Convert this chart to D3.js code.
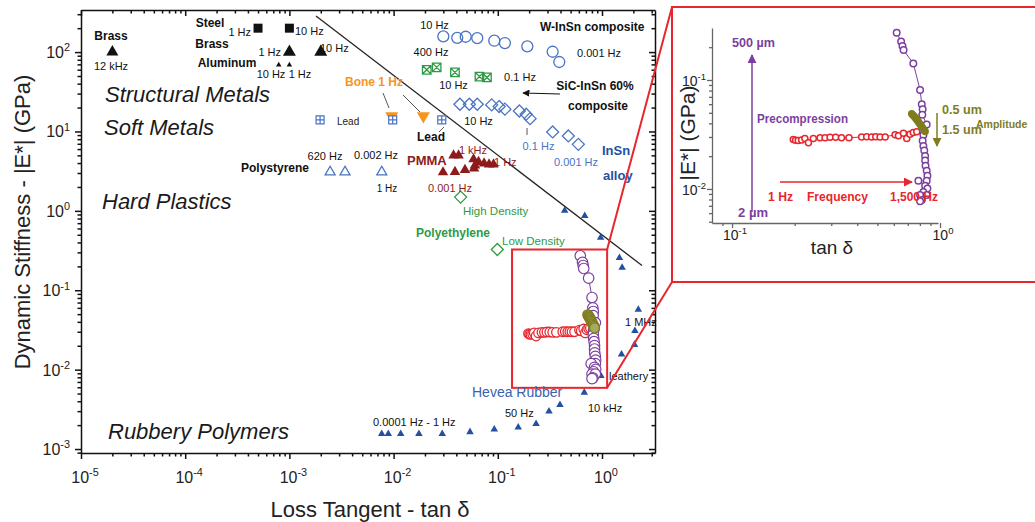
<!DOCTYPE html>
<html>
<head>
<meta charset="utf-8">
<script src="https://cdn.jsdelivr.net/npm/d3@7"></script>
<style>
  body { margin: 0; background: #fff; }
  svg { font-family: "Liberation Sans", Arial, sans-serif; }
</style>
</head>
<body>
<svg id="chart" width="1035" height="522"></svg>
<script>
// ---- data (tan delta, |E*| in GPa) ----
const brassHF = [[2e-5, 100]];
const steel = [[5e-4, 200], [1e-3, 200]];
const brass = [[1e-3, 100], [2e-3, 100]];
const aluminum = [[7.9e-4, 69], [1e-3, 69]];
const bone = [[0.0096, 15.7], [0.0193, 15.7]];
const lead = [[0.00197, 14], [0.0098, 14], [0.029, 14]];
const polystyrene = [[0.00246, 3.08], [0.00342, 3.08], [0.0077, 3.08]];
const pmma = [[0.0298, 3.06], [0.0388, 3.10], [0.0484, 3.28], [0.0592, 3.43], [0.0604, 3.74],
  [0.0376, 5.0], [0.0420, 5.0], [0.0585, 4.46], [0.0653, 4.14], [0.0738, 3.96], [0.0824, 3.85], [0.091, 3.85]];
const polyethylene = [[0.044, 1.49], [0.099, 0.326]];
const wInSn = [[0.030, 158], [0.0408, 151], [0.0492, 156], [0.0635, 150], [0.0925, 139],
  [0.117, 130], [0.192, 118], [0.336, 101], [0.389, 75]];
const sicInSn = [[0.0208, 59.8], [0.0259, 64.1], [0.0388, 55.5], [0.0667, 49.2], [0.0787, 47.9]];
const insnAlloy = [[0.0433, 22], [0.0533, 22], [0.0635, 22], [0.0873, 21.6], [0.103, 20.6], [0.117, 19.1],
  [0.161, 18.1], [0.187, 16.5], [0.204, 14.5], [0.336, 9.86], [0.475, 8.78], [0.593, 6.88]];
const hevea = [[0.00769, 0.00155], [0.00889, 0.00155], [0.0117, 0.00155], [0.0175, 0.00155], [0.0293, 0.00155],
  [0.0541, 0.00164], [0.0925, 0.00177], [0.157, 0.00188], [0.233, 0.00207], [0.310, 0.00299], [0.395, 0.00360],
  [0.676, 0.00516], [0.977, 0.00836], [1.54, 0.0156], [2.05, 0.0206], [2.07, 0.0309], [2.23, 0.0569],
  [1.56, 0.193], [1.47, 0.256], [0.97, 0.461], [0.683, 0.867], [0.438, 1.01]];
const stiffLine = [[0.0018, 285], [2.42, 0.205]];

// inset series
const frequency = [[0.197, 0.0285], [0.202, 0.028], [0.208, 0.0278], [0.216, 0.0282], [0.224, 0.029],
  [0.233, 0.0265], [0.246, 0.029], [0.265, 0.0295], [0.280, 0.0295], [0.296, 0.0298], [0.315, 0.0298],
  [0.336, 0.0295], [0.365, 0.0295], [0.420, 0.030], [0.444, 0.0302], [0.469, 0.030], [0.491, 0.0302],
  [0.515, 0.030], [0.545, 0.030], [0.608, 0.0315], [0.631, 0.0308], [0.667, 0.0325], [0.692, 0.029],
  [0.717, 0.0318], [0.744, 0.033], [0.773, 0.0335]];
const precompression = [[0.619, 0.272], [0.650, 0.225], [0.660, 0.205], [0.668, 0.188], [0.744, 0.142],
  [0.802, 0.081], [0.817, 0.060], [0.825, 0.054], [0.822, 0.048], [0.863, 0.039], [0.84, 0.034],
  [0.832, 0.0313], [0.825, 0.0277], [0.832, 0.0248], [0.84, 0.0225], [0.848, 0.0201], [0.848, 0.0182],
  [0.852, 0.0163], [0.863, 0.0147], [0.87, 0.0132], [0.863, 0.0119], [0.787, 0.0119], [0.848, 0.0107],
  [0.87, 0.0101], [0.832, 0.0094], [0.802, 0.0088], [0.863, 0.0088], [0.817, 0.0079], [0.802, 0.0077]];
const amplitude = [[0.731, 0.0490], [0.742, 0.0475], [0.752, 0.0462], [0.762, 0.0448], [0.772, 0.0435],
  [0.782, 0.0420], [0.792, 0.0405], [0.803, 0.0390], [0.814, 0.0376], [0.826, 0.0362], [0.838, 0.0348],
  [0.848, 0.0336]];
const zoomRegion = { x: [0.137, 1.12], y: [0.0059, 0.326] };

// tick labels (exponents of ten)
const xTickExp = [-5, -4, -3, -2, -1, 0];
const yTickExp = [-3, -2, -1, 0, 1, 2];
const insetXExp = [-1, 0];
const insetYExp = [-2, -1];

// ---- colours ----
const C = {
  blue: "#4a74c4", blueFill: "#2350a0", green: "#2e9a45", orange: "#f7941d", maroon: "#8c1c1c",
  red: "#e8262d", purple: "#7b3f9e", olive: "#7f7d1f"
};

const svg = d3.select("#chart");
const defs = svg.append("defs");
function arrowHead(id, color) {
  defs.append("marker").attr("id", id).attr("viewBox", "0 0 10 10")
    .attr("refX", 9).attr("refY", 5).attr("markerWidth", 6).attr("markerHeight", 6)
    .attr("orient", "auto")
    .append("path").attr("d", "M0,0L10,5L0,10Z").attr("fill", color);
}
arrowHead("ah-black", "#111");
arrowHead("ah-purple", C.purple);
arrowHead("ah-red", C.red);
arrowHead("ah-olive", C.olive);

/* Scales */
const x = d3.scaleLog().domain([1e-5, 3.226]).range([81, 655]);
const y = d3.scaleLog().domain([Math.pow(10, -3.05), Math.pow(10, 2.53)]).range([453, 10]);
const ix = d3.scaleLog().domain([0.0801, 0.978]).range([712, 938]);
const iy = d3.scaleLog().domain([0.00487, 0.300]).range([223, 28]);

function minorTicks(dom) {
  const out = [];
  for (let e = -6; e <= 3; e++) for (let m = 2; m < 10; m++) {
    const v = m * Math.pow(10, e);
    if (v > dom[0] && v < dom[1]) out.push(v);
  }
  return out;
}

function logAxis(g, axisFn, scale, majors, majorLen, minorLen, color, sw) {
  g.call(axisFn(scale).tickValues(majors).tickSizeInner(majorLen).tickSizeOuter(0).tickFormat(""));
  g.append("g").call(axisFn(scale).tickValues(minorTicks(scale.domain())).tickSizeInner(minorLen).tickSizeOuter(0).tickFormat(""))
    .call(s => s.select(".domain").remove());
  g.selectAll("path,line").attr("stroke", color).attr("stroke-width", sw);
}

function powLabel(sel, size) {
  sel.each(function (e) {
    const t = d3.select(this);
    t.append("tspan").text("10");
    t.append("tspan").attr("dy", -size * 0.42).attr("font-size", size * 0.68).text(e);
  });
}

/* Main axes (frame) */
const xMaj = xTickExp.map(e => Math.pow(10, e));
const yMaj = yTickExp.map(e => Math.pow(10, e));
logAxis(svg.append("g").attr("transform", "translate(0,453)"), d3.axisBottom, x, xMaj, 6, 3.5, "#111", 1.5);
logAxis(svg.append("g").attr("transform", "translate(0,10)"), d3.axisTop, x, xMaj, -6, -3.5, "#111", 1.5);
logAxis(svg.append("g").attr("transform", "translate(81,0)"), d3.axisLeft, y, yMaj, 6, 3.5, "#111", 1.5);
logAxis(svg.append("g").attr("transform", "translate(655,0)"), d3.axisRight, y, yMaj, -6, -3.5, "#111", 1.5);

svg.append("g").selectAll("text").data(xTickExp).join("text")
  .attr("x", e => x(Math.pow(10, e)) + 4).attr("y", 483)
  .attr("text-anchor", "middle").attr("font-size", 16).attr("fill", "#222")
  .call(powLabel, 16);
svg.append("g").selectAll("text").data(yTickExp).join("text")
  .attr("x", 70).attr("y", e => y(Math.pow(10, e)) + 6)
  .attr("text-anchor", "end").attr("font-size", 16).attr("fill", "#222")
  .call(powLabel, 16);

svg.append("text").attr("x", 370).attr("y", 517).attr("text-anchor", "middle")
  .attr("font-size", 22).attr("fill", "#222").text("Loss Tangent - tan δ");
svg.append("text").attr("transform", "translate(30,222) rotate(-90)").attr("text-anchor", "middle")
  .attr("font-size", 22).attr("fill", "#222").text("Dynamic Stiffness - |E*| (GPa)");

/* Marker shapes */
const shapes = {
  triUp: s => { const h = s * 0.87; return `M0,${-h * 2 / 3}L${s / 2},${h / 3}L${-s / 2},${h / 3}Z`; },
  triDown: s => { const h = s * 0.87; return `M0,${h * 2 / 3}L${s / 2},${-h / 3}L${-s / 2},${-h / 3}Z`; },
  square: s => `M${-s / 2},${-s / 2}h${s}v${s}h${-s}Z`,
  diamond: s => `M0,${-s / 2}L${s / 2},0L0,${s / 2}L${-s / 2},0Z`,
  circle: s => { const r = s / 2; return `M${r},0A${r},${r} 0 1,1 ${-r},0A${r},${r} 0 1,1 ${r},0Z`; },
  boxPlus: s => `M${-s / 2},${-s / 2}h${s}v${s}h${-s}Z M0,${-s / 2}V${s / 2} M${-s / 2},0H${s / 2}`,
  boxX: s => `M${-s / 2},${-s / 2}h${s}v${s}h${-s}Z M${-s / 2},${-s / 2}L${s / 2},${s / 2} M${s / 2},${-s / 2}L${-s / 2},${s / 2}`
};
function plot(data, sx, sy, shape, size, fill, stroke, sw) {
  svg.append("g").selectAll("path").data(data).join("path")
    .attr("transform", d => `translate(${sx(d[0])},${sy(d[1])})`)
    .attr("d", shapes[shape](size))
    .attr("fill", fill).attr("stroke", stroke || "none").attr("stroke-width", sw || 0);
}

const line = d3.line().x(d => x(d[0])).y(d => y(d[1]));
const iline = d3.line().x(d => ix(d[0])).y(d => iy(d[1]));

/* black reference line */
svg.append("path").attr("d", line(stiffLine)).attr("stroke", "#222").attr("stroke-width", 1.3).attr("fill", "none");

/* region labels */
const regions = [["Structural Metals", 105, 102], ["Soft Metals", 104, 135], ["Hard Plastics", 102, 209], ["Rubbery Polymers", 108, 439]];
svg.append("g").selectAll("text").data(regions).join("text")
  .attr("x", d => d[1]).attr("y", d => d[2]).attr("font-size", 22).attr("font-style", "italic")
  .attr("fill", "#1a1a1a").text(d => d[0]);

/* markers */
plot(brassHF, x, y, "triUp", 12, "#111");
plot(steel, x, y, "square", 9, "#111");
plot(brass, x, y, "triUp", 13, "#111");
plot(aluminum, x, y, "triUp", 5.5, "#111");
plot(bone, x, y, "triDown", 13, C.orange);
plot(lead, x, y, "boxPlus", 8, "#fff", C.blue, 1.2);
plot(polystyrene, x, y, "triUp", 10, "none", C.blue, 1.3);
plot(pmma, x, y, "triUp", 10.5, C.maroon);
plot(polyethylene, x, y, "diamond", 12, "none", C.green, 1.3);
plot(wInSn, x, y, "circle", 11, "none", C.blue, 1.3);
plot(sicInSn, x, y, "boxX", 8.5, "none", C.green, 1.3);
plot(insnAlloy, x, y, "diamond", 12, "none", C.blue, 1.3);
plot(hevea, x, y, "triUp", 7.5, C.blueFill);

/* zoomed region in main plot */
svg.append("path").attr("d", line(frequency)).attr("stroke", C.red).attr("fill", "none").attr("stroke-width", 1);
plot(frequency, x, y, "circle", 9.5, "#fff", C.red, 1.3);
svg.append("path").attr("d", line(precompression)).attr("stroke", C.purple).attr("fill", "none").attr("stroke-width", 1);
plot(precompression, x, y, "circle", 10.5, "#fff", C.purple, 1.2);
plot(amplitude, x, y, "circle", 10, "#a9a860", C.olive, 1.3);

const bx0 = x(zoomRegion.x[0]), bx1 = x(zoomRegion.x[1]), by0 = y(zoomRegion.y[1]), by1 = y(zoomRegion.y[0]);
svg.append("rect").attr("x", bx0).attr("y", by0).attr("width", bx1 - bx0).attr("height", by1 - by0)
  .attr("fill", "none").attr("stroke", C.red).attr("stroke-width", 2);

/* leader lines & arrows */
const leaders = [[[383, 93], [389, 108]], [[403, 95], [420, 112]], [[527, 128], [527, 135]], [[444, 127], [439, 132]]];
svg.append("g").selectAll("path").data(leaders).join("path")
  .attr("d", d => d3.line()(d)).attr("stroke", "#555").attr("stroke-width", 1);
svg.append("path").attr("d", "M560,94L523,93").attr("stroke", "#111").attr("stroke-width", 1.2)
  .attr("marker-end", "url(#ah-black)");

/* main annotations: text, x, y, anchor, size, weight, colour */
const notes = [
  ["Brass", 111, 40, "middle", 12, "bold", "#111"],
  ["12 kHz", 111, 70, "middle", 11, "normal", "#111"],
  ["Steel", 210, 27, "middle", 12, "bold", "#111"],
  ["1 Hz", 251, 36, "end", 11, "normal", "#111"],
  ["10 Hz", 295, 35, "start", 11, "normal", "#111"],
  ["Brass", 212, 48, "middle", 12, "bold", "#111"],
  ["1 Hz", 281, 56, "end", 11, "normal", "#111"],
  ["10 Hz", 320, 52, "start", 11, "normal", "#111"],
  ["Aluminum", 227, 67, "middle", 12, "bold", "#111"],
  ["10 Hz", 271, 78, "middle", 11, "normal", "#111"],
  ["1 Hz", 300, 78, "middle", 11, "normal", "#111"],
  ["Lead", 337, 124.5, "start", 10, "normal", "#222"],
  ["Lead", 431, 141, "middle", 12, "bold", "#111"],
  ["620 Hz", 325, 160, "middle", 11, "normal", "#111"],
  ["0.002 Hz", 376, 159, "middle", 11, "normal", "#111"],
  ["1 Hz", 387, 192, "middle", 10, "normal", "#111"],
  ["Polystyrene", 275, 172, "middle", 12, "bold", "#111"],
  ["PMMA", 407, 164.5, "start", 13, "bold", C.maroon],
  ["1 kHz", 473, 154, "middle", 11, "normal", C.maroon],
  ["1 Hz", 494, 165.5, "start", 11, "normal", C.maroon],
  ["0.001 Hz", 450, 192, "middle", 11, "normal", C.maroon],
  ["High Density", 463, 215, "start", 11.5, "normal", C.green],
  ["Polyethylene", 453, 237, "middle", 12, "bold", C.green],
  ["Low Density", 502, 244.5, "start", 11.5, "normal", C.green],
  ["10 Hz", 434.5, 29, "middle", 11, "normal", "#111"],
  ["W-InSn composite", 540, 31, "start", 12, "bold", "#111"],
  ["0.001 Hz", 577, 57, "start", 11, "normal", "#111"],
  ["400 Hz", 431, 56, "middle", 11, "normal", "#111"],
  ["10 Hz", 453.5, 89, "middle", 11, "normal", "#111"],
  ["0.1 Hz", 520, 81, "middle", 11, "normal", "#111"],
  ["SiC-InSn 60%", 595, 90, "middle", 12, "bold", "#111"],
  ["composite", 598, 110, "middle", 12, "bold", "#111"],
  ["10 Hz", 478.5, 125, "middle", 11, "normal", "#111"],
  ["0.1 Hz", 538.5, 150, "middle", 11, "normal", C.blue],
  ["0.001 Hz", 576, 166, "middle", 11, "normal", C.blue],
  ["InSn", 602, 155, "start", 13, "bold", C.blueFill],
  ["alloy", 603, 180, "start", 13, "bold", C.blueFill],
  ["Hevea Rubber", 472, 397, "start", 14, "normal", "#3a62b0"],
  ["0.0001 Hz - 1 Hz", 373, 425.5, "start", 11, "normal", "#111"],
  ["50 Hz", 505, 417, "start", 11, "normal", "#111"],
  ["10 kHz", 588, 412, "start", 11, "normal", "#111"],
  ["leathery", 609, 379.5, "start", 11, "normal", "#111"],
  ["1 MHz", 625, 326, "start", 11, "normal", "#111"]
];
svg.append("g").selectAll("text").data(notes).join("text")
  .attr("x", d => d[1]).attr("y", d => d[2]).attr("text-anchor", d => d[3])
  .attr("font-size", d => d[4]).attr("font-weight", d => d[5]).attr("fill", d => d[6])
  .text(d => d[0]);
svg.append("text").attr("x", 345).attr("y", 86).attr("font-size", 12).attr("font-weight", "bold")
  .attr("fill", C.orange).text("Bone 1 Hz");

/* Inset frame and connectors */
svg.append("path").attr("d", `M${bx1},${by0}L672,7 M${bx1},${by1}L672,282`).attr("stroke", C.red).attr("stroke-width", 2);
svg.append("rect").attr("x", 672).attr("y", 7).attr("width", 400).attr("height", 275)
  .attr("fill", "#fff").attr("stroke", C.red).attr("stroke-width", 2);

/* Inset axes */
logAxis(svg.append("g").attr("transform", "translate(0,223)"), d3.axisBottom, ix, insetXExp.map(e => Math.pow(10, e)), 5, 3, "#666", 1.3);
logAxis(svg.append("g").attr("transform", "translate(712,0)"), d3.axisLeft, iy, insetYExp.map(e => Math.pow(10, e)), 5, 3, "#666", 1.3);
svg.append("g").selectAll("text").data(insetXExp).join("text")
  .attr("x", e => ix(Math.pow(10, e)) + 3).attr("y", 240)
  .attr("text-anchor", "middle").attr("font-size", 14).attr("fill", "#222")
  .call(powLabel, 14);
svg.append("g").selectAll("text").data(insetYExp).join("text")
  .attr("x", 706).attr("y", e => iy(Math.pow(10, e)) + 6)
  .attr("text-anchor", "end").attr("font-size", 14).attr("fill", "#222")
  .call(powLabel, 14);
svg.append("text").attr("x", 832).attr("y", 254).attr("text-anchor", "middle")
  .attr("font-size", 19).attr("fill", "#222").text("tan δ");
svg.append("text").attr("transform", "translate(695,133) rotate(-90)").attr("text-anchor", "middle")
  .attr("font-size", 21).attr("fill", "#222").text("|E*| (GPa)");

/* Inset series */
svg.append("path").attr("d", iline(frequency)).attr("stroke", C.red).attr("fill", "none").attr("stroke-width", 1);
plot(frequency, ix, iy, "circle", 6, "#fff", C.red, 1.5);
svg.append("path").attr("d", iline(precompression)).attr("stroke", C.purple).attr("fill", "none").attr("stroke-width", 1);
plot(precompression, ix, iy, "circle", 6.5, "#fff", C.purple, 1.5);
plot(amplitude, ix, iy, "circle", 6, C.olive, C.olive, 1.5);

/* Inset annotations */
svg.append("path").attr("d", "M752,212L752,55").attr("stroke", C.purple).attr("stroke-width", 1.5).attr("marker-end", "url(#ah-purple)");
svg.append("path").attr("d", "M780,182L912,182").attr("stroke", C.red).attr("stroke-width", 1.5).attr("marker-end", "url(#ah-red)");
svg.append("path").attr("d", "M937,113L937,146").attr("stroke", C.olive).attr("stroke-width", 1.5).attr("marker-end", "url(#ah-olive)");

// text, x, y, fitted width (null = natural), size, colour
const insetNotes = [
  ["500 µm", 732, 47, 43, 13, C.purple],
  ["2 µm", 738, 217, 30, 13, C.purple],
  ["Precompression", 757, 123, 91, 13, C.purple],
  ["1 Hz", 768, 201, 25, 13, C.red],
  ["Frequency", 807, 201, 61, 13, C.red],
  ["1,500 Hz", 890, 201, 48, 13, C.red],
  ["0.5 um", 942, 114, 40, 13, C.olive],
  ["1.5 um", 942, 134, 40, 13, C.olive],
  ["Amplitude", 976, 128, null, 10.5, C.olive]
];
svg.append("g").selectAll("text").data(insetNotes).join("text")
  .attr("x", d => d[1]).attr("y", d => d[2]).attr("font-size", d => d[4]).attr("font-weight", "bold")
  .attr("textLength", d => d[3]).attr("lengthAdjust", d => d[3] ? "spacingAndGlyphs" : null)
  .attr("fill", d => d[5]).text(d => d[0]);
</script>
</body>
</html>
